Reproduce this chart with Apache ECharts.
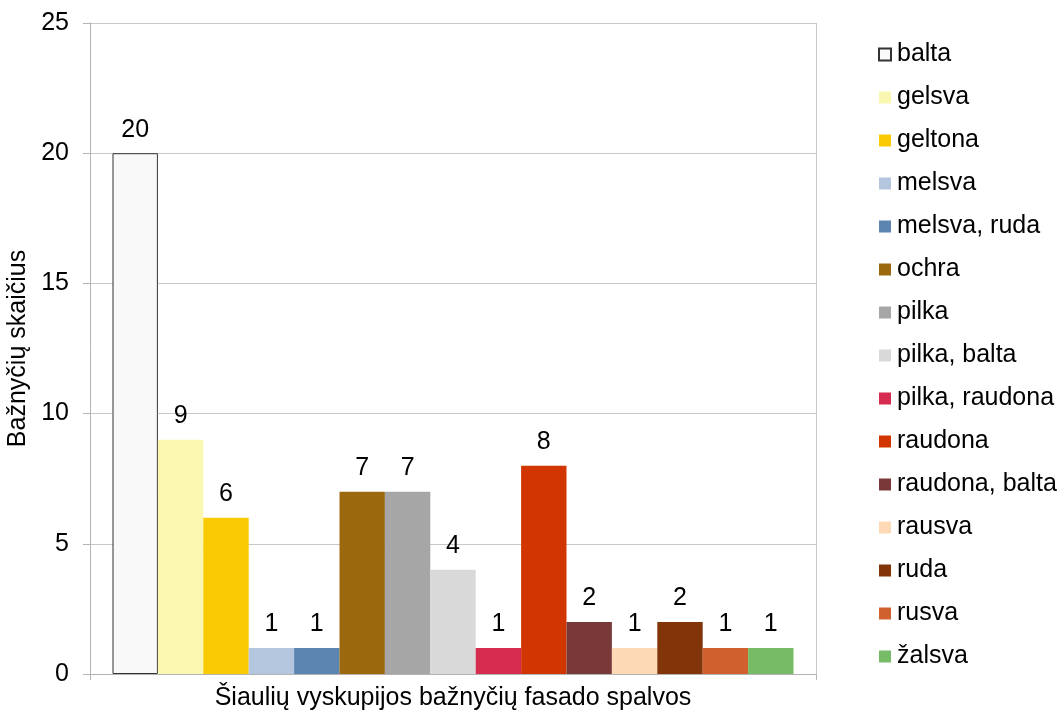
<!DOCTYPE html>
<html>
<head>
<meta charset="utf-8">
<script src="https://cdn.jsdelivr.net/npm/echarts@6/dist/echarts.min.js"></script>
<style>html,body{margin:0;padding:0;background:#fff}#c{width:1057px;height:719px}</style>
</head>
<body>
<div id="c"></div>
<script>
const category = ['Šiaulių vyskupijos bažnyčių fasado spalvos'];
const names = ['balta','gelsva','geltona','melsva','melsva, ruda','ochra','pilka','pilka, balta','pilka, raudona','raudona','raudona, balta','rausva','ruda','rusva','žalsva'];
const values = [20,9,6,1,1,7,7,4,1,8,2,1,2,1,1];
const colors = ['#f9f9f9','#faf8b0','#facb03','#b4c6de','#5b84b1','#9b680e','#a6a6a6','#d9d9d9','#d62c4f','#d23600','#783838','#fddab5','#813509','#d0602d','#77bb66'];
const yTicks = {min:0, max:25, interval:5};
const FONT = '"Liberation Sans", Arial, sans-serif';

const series = names.map((n,i)=>({
  type:'bar', name:n, data:[values[i]],
  barGap:'0%', barCategoryGap:'6.2%',
  itemStyle: i===0 ? {color:colors[i], borderColor:'#333', borderWidth:1} : {color:colors[i]},
  label:{show:true, position:'top', distance:11, fontSize:25, color:'#000', fontFamily:FONT},
  emphasis:{disabled:true}
}));

const chart = echarts.init(document.getElementById('c'), null, {renderer:'canvas'});
chart.setOption({
  animation:false,
  textStyle:{fontFamily:FONT},
  grid:{left:90, right:241, top:23, bottom:45, containLabel:false, outerBoundsMode:'none'},
  legend:{
    orient:'vertical', left:873, top:37, icon:'rect',
    itemWidth:12, itemHeight:12, itemGap:18,
    textStyle:{fontSize:25, color:'#000', fontFamily:FONT, lineHeight:25, padding:[0,0,0,1]},
    selectedMode:false
  },
  xAxis:{
    type:'category', data:category,
    axisLine:{show:true, lineStyle:{color:'#b3b3b3'}},
    axisTick:{show:true, length:6, lineStyle:{color:'#b3b3b3'}},
    axisLabel:{fontSize:25, color:'#000', fontFamily:FONT, margin:12},
    splitLine:{show:true, lineStyle:{color:'#c8c8c8'}}
  },
  yAxis:{
    type:'value', min:yTicks.min, max:yTicks.max, interval:yTicks.interval,
    name:'Bažnyčių skaičius', nameLocation:'middle', nameGap:58, nameRotate:90,
    nameTextStyle:{fontSize:25, color:'#000', fontFamily:FONT},
    axisLine:{show:true, lineStyle:{color:'#b3b3b3'}},
    axisTick:{show:true, length:7, lineStyle:{color:'#b3b3b3'}},
    axisLabel:{fontSize:25, color:'#000', fontFamily:FONT, margin:21},
    splitLine:{show:true, lineStyle:{color:'#c8c8c8'}}
  },
  series: series
});
</script>
</body>
</html>
